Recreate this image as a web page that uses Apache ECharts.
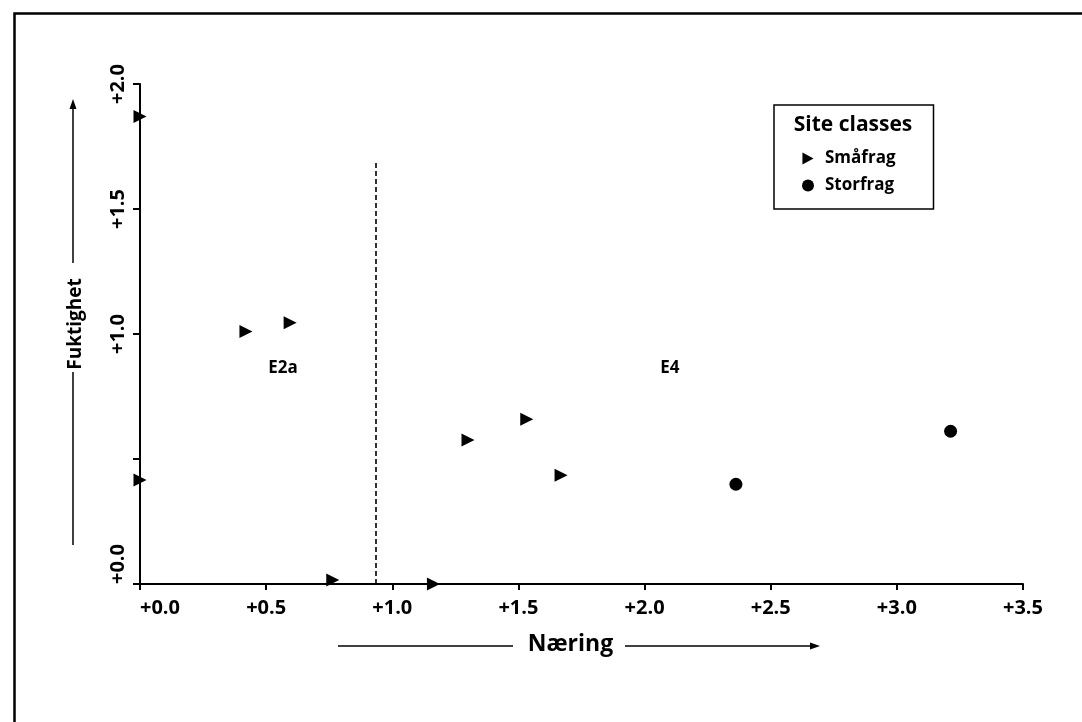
<!DOCTYPE html>
<html>
<head>
<meta charset="utf-8">
<script src="https://cdn.jsdelivr.net/npm/echarts@6/dist/echarts.min.js"></script>
<style>
html,body{margin:0;padding:0;background:#fff;}
#chart{width:1082px;height:722px;}
</style>
</head>
<body>
<div id="chart"></div>
<script>
// ---- data ----
const smaafragX = [0.0, 0.42, 0.595, 0.0, 0.764, 1.163, 1.30, 1.533, 1.669];
const smaafragY = [1.87, 1.01, 1.045, 0.416, 0.016, 0.0, 0.576, 0.659, 0.435];
const storfragX = [2.362, 3.213];
const storfragY = [0.399, 0.611];
const regionNames = ['E2a', 'E4'];
const regionX = [0.567, 2.10];
const regionY = [0.864, 0.864];
const boundaryX = 0.935;
const boundaryTop = 1.69;
const xTickValues = [0, 0.5, 1, 1.5, 2, 2.5, 3, 3.5];
const xTickLabels = ['+0.0', '+0.5', '+1.0', '+1.5', '+2.0', '+2.5', '+3.0', '+3.5'];
const yTickValues = [0, 0.5, 1, 1.5, 2];
const yTickLabels = ['+0.0', '', '+1.0', '+1.5', '+2.0'];
const seriesNames = ['Småfrag', 'Storfrag'];
const legendTitle = 'Site classes';
const xName = 'Næring';
const yName = 'Fuktighet';

const FONT = 'Open Sans';
const TRI = 'path://M0,0L12,6.5L0,13Z';

function lookup(vals, labels, v) {
  for (let i = 0; i < vals.length; i++) if (Math.abs(vals[i] - v) < 1e-6) return labels[i];
  return '';
}

const chart = echarts.init(document.getElementById('chart'), null, {renderer: 'canvas'});
const option = {
  backgroundColor: '#fff',
  animation: false,
  textStyle: {fontFamily: FONT, color: '#000'},
  title: {
    text: legendTitle,
    left: 853, textAlign: 'center',
    top: 115, padding: 0,
    textStyle: {fontFamily: FONT, fontSize: 21, fontWeight: 'bold', color: '#000'}
  },
  legend: {
    orient: 'vertical',
    left: 774, top: 105,
    padding: [45, 38, 15, 28],
    borderColor: '#000', borderWidth: 1.5,
    itemWidth: 12, itemHeight: 12, itemGap: 10,
    textStyle: {fontFamily: FONT, fontSize: 17, fontWeight: 'bold', color: '#000', padding: [0, 0, 0, 6], lineHeight: 14},
    data: [
      {name: seriesNames[0], icon: TRI, itemStyle: {opacity: 1, color: '#000'}},
      {name: seriesNames[1], icon: 'circle', itemStyle: {opacity: 1, color: '#000'}}
    ]
  },
  grid: {left: 140, right: 59, top: 84, bottom: 138, containLabel: false},
  xAxis: {
    type: 'value', min: 0, max: 3.5, interval: 0.5,
    name: xName, nameLocation: 'middle', nameGap: 49,
    nameTextStyle: {fontFamily: FONT, fontSize: 23, fontWeight: 'bold', color: '#000', padding: [0, 22, 0, 0]},
    axisLine: {show: true, lineStyle: {color: '#000', width: 2}},
    axisTick: {show: true, inside: false, length: 6, lineStyle: {color: '#000', width: 2}},
    splitLine: {show: false},
    axisLabel: {
      show: true, margin: 14,
      fontFamily: FONT, fontSize: 20, fontWeight: 'bold', color: '#000',
      alignMinLabel: 'left', showMinLabel: true, showMaxLabel: true,
      formatter: v => lookup(xTickValues, xTickLabels, v)
    }
  },
  yAxis: {
    type: 'value', min: 0, max: 2, interval: 0.5,
    name: yName, nameLocation: 'middle', nameGap: 55, nameRotate: 90,
    nameTextStyle: {fontFamily: FONT, fontSize: 19, fontWeight: 'bold', color: '#000', padding: [0, 0, 0, 20]},
    axisLine: {show: true, lineStyle: {color: '#000', width: 2}},
    axisTick: {show: true, inside: false, length: 7, lineStyle: {color: '#000', width: 2}},
    splitLine: {show: false},
    axisLabel: {
      show: true, rotate: 90, margin: 12,
      fontFamily: FONT, fontSize: 20, fontWeight: 'bold', color: '#000',
      alignMinLabel: 'left', showMinLabel: true, showMaxLabel: true,
      formatter: v => lookup(yTickValues, yTickLabels, v)
    }
  },
  graphic: [
    {type: 'rect', left: 12, top: 11, shape: {x: 0, y: 0, width: 1200, height: 900}, style: {fill: 'none', stroke: '#000', lineWidth: 2.5}, silent: true, z: 100},
    // y-axis name arrows
    {type: 'line', shape: {x1: 73, y1: 545, x2: 73, y2: 372}, style: {stroke: '#000', lineWidth: 1.5}, silent: true},
    {type: 'line', shape: {x1: 73, y1: 263, x2: 73, y2: 106}, style: {stroke: '#000', lineWidth: 1.5}, silent: true},
    {type: 'polygon', shape: {points: [[73, 99], [69.5, 109], [76.5, 109]]}, style: {fill: '#000'}, silent: true},
    // x-axis name arrows
    {type: 'line', shape: {x1: 338, y1: 646, x2: 513, y2: 646}, style: {stroke: '#000', lineWidth: 1.5}, silent: true},
    {type: 'line', shape: {x1: 625, y1: 646, x2: 812, y2: 646}, style: {stroke: '#000', lineWidth: 1.5}, silent: true},
    {type: 'polygon', shape: {points: [[820, 646], [810, 642.5], [810, 649.5]]}, style: {fill: '#000'}, silent: true}
  ],
  series: [
    {
      name: seriesNames[0], type: 'scatter', clip: false,
      symbol: TRI, symbolSize: [13, 13],
      itemStyle: {color: '#000', opacity: 1},
      data: smaafragX.map((x, i) => [x, smaafragY[i]]),
      markLine: {
        silent: true, symbol: 'none', animation: false,
        label: {show: false},
        lineStyle: {color: '#000', type: [5, 3], width: 1.6, opacity: 1},
        data: [[{coord: [boundaryX, 0]}, {coord: [boundaryX, boundaryTop]}]]
      },
      z: 5
    },
    {
      name: seriesNames[1], type: 'scatter', clip: false,
      symbol: 'circle', symbolSize: 13,
      itemStyle: {color: '#000', opacity: 1},
      data: storfragX.map((x, i) => [x, storfragY[i]]),
      z: 5
    },
    {
      name: 'regions', type: 'scatter', clip: false, silent: true,
      symbolSize: 0,
      itemStyle: {opacity: 1},
      data: regionNames.map((n, i) => [regionX[i], regionY[i], n]),
      label: {
        show: true, position: 'inside',
        fontFamily: FONT, fontSize: 17, fontWeight: 'bold', color: '#000',
        formatter: p => p.value[2]
      }
    }
  ]
};
chart.setOption(option);
</script>
</body>
</html>
